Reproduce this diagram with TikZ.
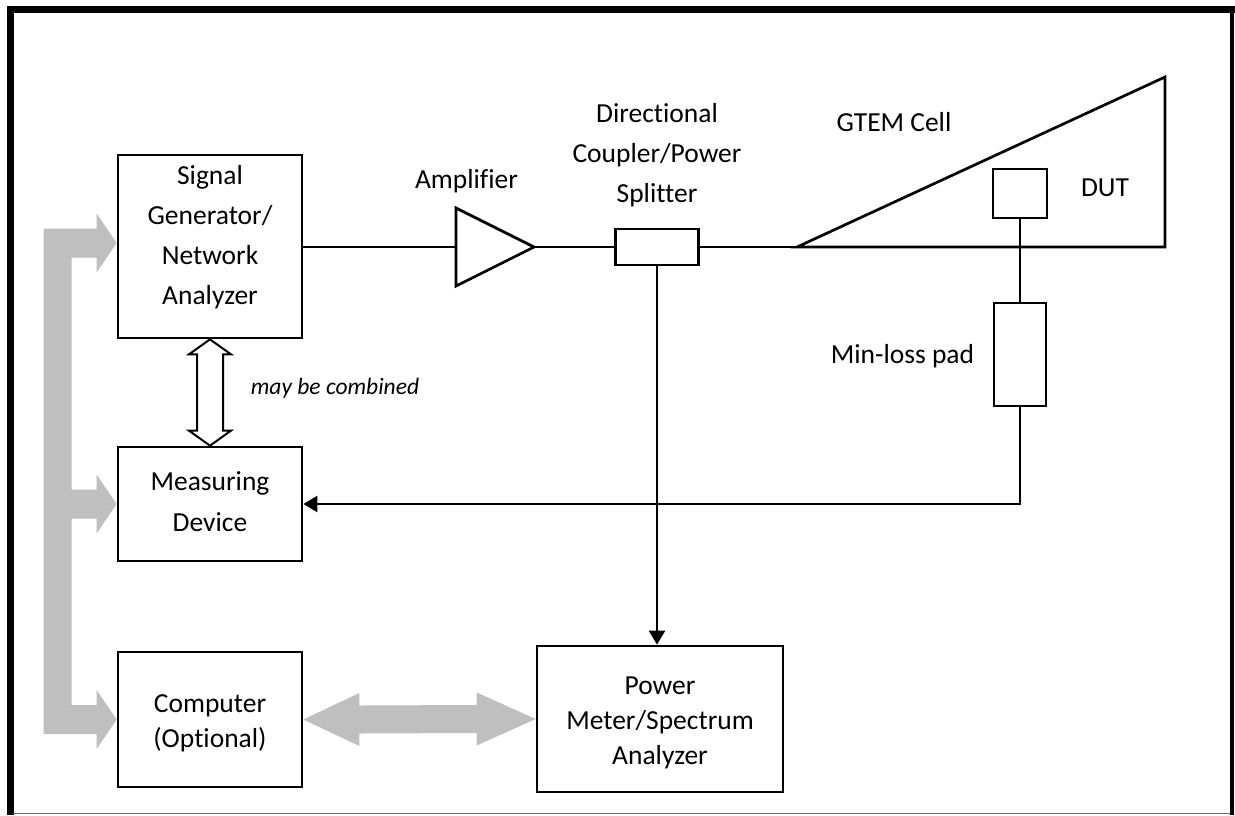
\documentclass[tikz,border=0pt]{standalone}
\usepackage{fontspec}
\setmainfont[Ligatures={NoCommon}]{Carlito}
\usetikzlibrary{arrows.meta,calc}
\definecolor{arrowgray}{RGB}{191,191,191}
\definecolor{framegray}{RGB}{110,110,110}
\begin{document}
\begin{tikzpicture}[x=1pt,y=-1pt,
  box/.style={draw, line width=2.7pt, rectangle, inner sep=0pt},
  lbl/.style={align=center, inner sep=0pt, text=black},
  wire/.style={line width=2.5pt},
  tipped/.style={wire, -{Triangle[length=14pt,width=16pt]}},
  grayarrow/.style={fill=arrowgray, draw=none},
  hollow/.style={draw=black, fill=white, line width=2pt, line join=miter}]
\useasboundingbox (0,0) rectangle (1235,815);
% frame
\draw[line width=7pt, line join=miter] (10,815) -- (10,9) -- (1235,9);
\draw[line width=4.5pt] (1232,9) -- (1232,815);
\draw[line width=1.5pt, framegray] (13,813.5) -- (1230,813.5);

% boxes
\node[box, minimum width=184pt, minimum height=183pt] (sig) at (210,246.5) {};
\node[box, minimum width=184pt, minimum height=114pt] (meas) at (210,504) {};
\node[box, minimum width=184pt, minimum height=135pt] (comp) at (210,719.5) {};
\node[box, minimum width=246pt, minimum height=146pt] (pm) at (660,719) {};
\node[box, minimum width=83pt, minimum height=36pt] (coup) at (657,247) {};
\node[box, minimum width=54pt, minimum height=49pt] (dut) at (1020,193.5) {};
\node[box, minimum width=52pt, minimum height=103pt] (pad) at (1020,354.5) {};

% amplifier
\coordinate (ampin) at (456,247);
\coordinate (ampout) at (534,247);
\draw[line width=2.7pt, line join=miter] (456,208) -- (ampout) -- (456,286) -- cycle;

% GTEM cell
\coordinate (gtemtip) at (797,247);
\coordinate (gtemtop) at (1165,77);
\coordinate (gtembot) at (1165,247);
\draw[line width=2.7pt, line join=miter] (gtemtip) -- (gtemtop) -- (gtembot) -- cycle;

% texts
\node[lbl, font=\fontsize{27.5}{40}\selectfont] (sigt) at (210,237) {Signal\\Generator/\\Network\\Analyzer};
\node[lbl, font=\fontsize{27.5}{41}\selectfont] (meast) at (210,501.3) {Measuring\\Device};
\node[lbl, font=\fontsize{27.5}{35}\selectfont] (compt) at (210,723) {Computer\\(Optional)};
\node[lbl, font=\fontsize{27.5}{35}\selectfont] (pmt) at (660,722.5) {Power\\Meter/Spectrum\\Analyzer};
\node[lbl, font=\fontsize{27.5}{40}\selectfont] (ampt) at (466.5,181) {Amplifier};
\node[lbl, font=\fontsize{27.5}{40}\selectfont] (coupt) at (657,155) {Directional\\Coupler/Power\\Splitter};
\node[lbl, font=\fontsize{27.5}{40}\selectfont] (gtemt) at (894,122.5) {GTEM Cell};
\node[lbl, font=\fontsize{27.5}{40}\selectfont] (dutt) at (1105,188) {DUT};
\node[lbl, font=\fontsize{27.5}{40}\selectfont] (padt) at (902.5,356) {Min-loss pad};
\node[lbl, font=\itshape\fontsize{23.5}{28}\selectfont] (combt) at (335,388) {may be combined};

% signal path
\draw[wire] (sig.east |- ampin) -- (ampin);
\draw[wire] (ampout) -- (coup.west);
\draw[wire] (coup.east) -- (gtemtip);
\draw[wire] (dut.south) -- (pad.north);
\draw[tipped] (pad.south) |- (meas.east);
\draw[tipped] (coup.south) -- (coup.south |- pm.north);

% hollow double arrow
\coordinate (a1) at (sig.south);
\coordinate (a2) at (meas.north);
\draw[hollow] (a1) -- ($(a1)+(21,15)$) -- ($(a1)+(13,15)$) -- ($(a2)+(13,-15)$) -- ($(a2)+(21,-15)$) -- (a2)
  -- ($(a2)+(-21,-15)$) -- ($(a2)+(-13,-15)$) -- ($(a1)+(-13,15)$) -- ($(a1)+(-21,15)$) -- cycle;

% gray bus arrows
\coordinate (t1) at ($(sig.west)+(0,-3.5)$);
\coordinate (t2) at (meas.west);
\coordinate (t3) at (comp.west);
\fill[grayarrow] ($(t1)+(-73,-14.5)$) -- ($(t1)+(-20,-14.5)$) -- ($(t1)+(-20,-29.5)$) -- (t1)
  -- ($(t1)+(-20,29.5)$) -- ($(t1)+(-20,14.5)$) -- ($(t1)+(-45,14.5)$)
  -- ($(t2)+(-45,-14.5)$) -- ($(t2)+(-20,-14.5)$) -- ($(t2)+(-20,-29.5)$) -- (t2)
  -- ($(t2)+(-20,29.5)$) -- ($(t2)+(-20,14.5)$) -- ($(t2)+(-45,14.5)$)
  -- ($(t3)+(-45,-14.5)$) -- ($(t3)+(-20,-14.5)$) -- ($(t3)+(-20,-29.5)$) -- (t3)
  -- ($(t3)+(-20,29.5)$) -- ($(t3)+(-20,14.5)$) -- ($(t3)+(-73,14.5)$) -- cycle;

% gray double arrow computer <-> power meter
\coordinate (c1) at (comp.east);
\coordinate (c2) at (pm.west);
\fill[grayarrow] (c1) -- ($(c1)+(56,-26.5)$) -- ($(c1)+(56,-14)$) -- ($(c2)+(-59,-14)$) -- ($(c2)+(-59,-26.5)$) -- (c2)
  -- ($(c2)+(-59,26.5)$) -- ($(c2)+(-59,14)$) -- ($(c1)+(56,14)$) -- ($(c1)+(56,26.5)$) -- cycle;
\end{tikzpicture}
\end{document}
